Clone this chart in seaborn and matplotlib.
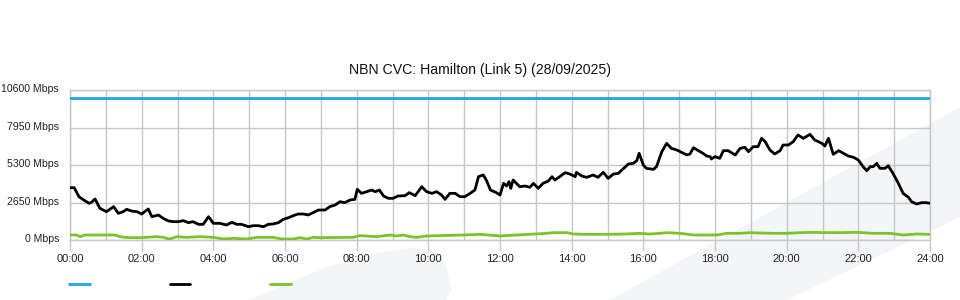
import matplotlib
matplotlib.use("Agg")
import matplotlib.pyplot as plt
import matplotlib.transforms as mtransforms
from matplotlib.patches import Polygon
from matplotlib.lines import Line2D
import seaborn as sns
import pandas as pd

# ---------------- data ----------------
title = "NBN CVC: Hamilton (Link 5) (28/09/2025)"
y_ticks = [0, 2650, 5300, 7950, 10600]
y_tick_labels = ["0 Mbps", "2650 Mbps", "5300 Mbps", "7950 Mbps", "10600 Mbps"]
x_ticks = list(range(0, 1441, 120))
x_tick_labels = ["00:00", "02:00", "04:00", "06:00", "08:00", "10:00", "12:00",
                 "14:00", "16:00", "18:00", "20:00", "22:00", "24:00"]

capacity_minutes = [0, 1440]
capacity_mbps = [10000, 10000]

traffic_minutes = [
    0, 7, 15, 23, 32, 36, 42, 50, 61, 73, 81, 89, 95, 103, 112, 120, 131, 137, 142, 148,
    156, 165, 173, 181, 190, 198, 206, 215, 223, 232, 240, 251, 262, 271, 279, 287, 299,
    307, 315, 324, 332, 340, 349, 357, 366, 374, 382, 391, 399, 408, 416,
    427, 435, 444, 452, 460, 469, 477, 481, 488, 497, 505, 511, 518, 525, 533, 541, 549,
    561, 568, 578, 589, 597, 606, 614, 622, 628, 636, 645, 653, 661, 670, 678, 684, 692,
    697, 704, 714, 720, 726, 731, 735, 738, 742, 753, 762, 770, 776, 784, 792, 801, 807,
    812, 820, 829, 837, 846, 848, 857, 865, 876, 884, 893, 901, 910, 918, 927, 935, 943,
    949, 953,
    960, 965, 977, 982, 991, 999, 1007, 1016, 1024, 1033, 1038, 1044, 1052, 1060, 1066,
    1072, 1074, 1080, 1088, 1094, 1102, 1114, 1122, 1130, 1136, 1144, 1152, 1158, 1164,
    1172, 1180, 1189, 1194, 1203, 1211, 1219, 1228, 1239, 1247, 1259, 1264, 1270, 1278,
    1287, 1295, 1303, 1312, 1320, 1328, 1334, 1340, 1345, 1351, 1356, 1365, 1370, 1378,
    1387, 1395, 1404, 1409, 1418, 1426, 1434, 1440,
]
traffic_mbps = [
    3696, 3696, 3061, 2827, 2592, 2670, 2897, 2238, 2002, 2356, 1884, 2002, 2167, 2049, 2002,
    1837, 2191, 1649, 1696, 1767, 1531, 1343, 1296, 1296, 1366, 1225, 1296, 1107, 1107, 1649,
    1178, 1178, 1060, 1248, 1107, 1107, 942, 1013, 1013, 942, 1107, 1131, 1225, 1460, 1578,
    1719, 1837, 1837, 1767, 1955, 2120,
    2120, 2356, 2473, 2709, 2638, 2827, 2874, 3580, 3297, 3415, 3533, 3415, 3533, 3109, 2944,
    2944, 3109, 3133, 3345, 3133, 3768, 3415, 3297, 3415, 3180, 2874, 3297, 3297, 3061, 3061,
    3297, 3533, 4475, 4593, 4240, 3533, 3345, 3180, 4004, 3815, 4122, 3651, 4240, 3768, 3815,
    3721, 4004, 3651, 4004, 4169, 4475, 4240, 4475, 4757, 4663, 4475, 4781, 4522, 4428, 4593,
    4428, 4781, 4357, 4663, 4710, 5064, 5370, 5417, 5606, 6124,
    5300, 5064, 4993, 5181, 6242, 6831, 6477, 6360, 6195, 6007, 6077, 6525, 6313, 6124, 5936,
    5889, 5724, 5889, 5771, 6313, 6313, 6007, 6477, 6548, 6242, 6595, 6595, 7184, 6949, 6360,
    6077, 6313, 6713, 6713, 6949, 7420, 7184, 7467, 7067, 6831, 6642, 7184, 6054, 6313, 6124,
    5936, 5842, 5653, 5181, 4898, 5181, 5181, 5417, 5064, 5064, 5252, 4710, 4004, 3297, 3015,
    2709, 2544, 2638, 2638, 2592,
]

upload_minutes = [
    0, 11, 17, 25, 50, 75, 84, 92, 100, 117, 128, 145, 156, 167, 179, 195, 218, 240, 257,
    273, 296, 313, 329, 340, 354, 374, 385, 396, 407, 419,
    474, 486, 514, 536, 547, 558, 569, 581, 597, 659, 687, 720, 748, 798, 809, 832, 843,
    865, 899, 932, 953,
    971, 988, 999, 1022, 1044, 1083, 1100, 1122, 1139, 1155, 1178, 1200, 1222, 1245, 1267,
    1289, 1317, 1345, 1373, 1395, 1418, 1440,
]
upload_mbps = [
    353, 353, 235, 353, 353, 353, 235, 188, 165, 165, 188, 235, 188, 71, 235, 188, 235, 188,
    71, 118, 71, 188, 188, 188, 71, 71, 165, 71, 188, 165,
    188, 306, 235, 353, 283, 353, 235, 188, 283, 353, 400, 283, 353, 471, 518, 518, 424,
    400, 400, 424, 471,
    424, 471, 518, 471, 353, 353, 471, 471, 518, 495, 471, 471, 518, 542, 518, 518, 542,
    471, 471, 353, 424, 400,
]

# ---------------- style ----------------
sns.set_style("white")
plt.rcParams["font.family"] = ["Liberation Sans", "DejaVu Sans"]

BLUE = "#1ea5e6"
BLACK = "#000000"
GREEN = "#7cc22a"
GRID = "#c6c6c6"
WM = "#f4f5f7"

W, H = 960, 300
fig = plt.figure(figsize=(W / 100, H / 100), dpi=100)
fig.patch.set_facecolor("white")

# faint background watermark shapes (figure pixel coordinates, y from top)
def px(pts):
    return [(x / W, 1 - y / H) for x, y in pts]

band = Polygon(px([(610, 300), (960, 107), (960, 217), (787, 300)]),
               closed=True, transform=fig.transFigure, facecolor=WM, edgecolor="none", zorder=-5)
blob = Polygon(px([(250, 300), (290, 282), (330, 266), (370, 254), (410, 248), (435, 251),
                   (446, 264), (452, 290), (446, 300)]),
               closed=True, transform=fig.transFigure, facecolor=WM, edgecolor="none", zorder=-5)
fig.patches.extend([band, blob])

ax = fig.add_axes([70 / W, 1 - 240 / H, 860 / W, 150 / H])
ax.set_zorder(2)
ax.set_facecolor("none")

cap_df = pd.DataFrame({"t": capacity_minutes, "v": capacity_mbps})
trf_df = pd.DataFrame({"t": traffic_minutes, "v": traffic_mbps})
upl_df = pd.DataFrame({"t": upload_minutes, "v": upload_mbps})

sns.lineplot(data=cap_df, x="t", y="v", ax=ax, color=BLUE, linewidth=2.0, zorder=3)
sns.lineplot(data=upl_df, x="t", y="v", ax=ax, color=GREEN, linewidth=2.0, zorder=3)
sns.lineplot(data=trf_df, x="t", y="v", ax=ax, color=BLACK, linewidth=2.0, zorder=4)

ax.set_xlim(0, 1440)
ax.set_ylim(0, 10600)
ax.set_xlabel("")
ax.set_ylabel("")

ax.set_xticks(x_ticks)
ax.set_xticklabels(x_tick_labels, fontsize=8, color="#222222")
ax.set_xticks(list(range(0, 1441, 60)), minor=True)
ax.set_yticks(y_ticks)
ax.set_yticklabels(y_tick_labels, fontsize=7.6, color="#222222")

ax.tick_params(axis="x", which="major", length=8, width=1, color=GRID, pad=2, bottom=True)
ax.tick_params(axis="x", which="minor", length=0)
ax.tick_params(axis="y", which="major", length=0, pad=8, left=True)

# y labels sit ~2px above their grid lines in the reference
shift = mtransforms.ScaledTranslation(0, 2 / 100, fig.dpi_scale_trans)
for lbl in ax.get_yticklabels():
    lbl.set_transform(lbl.get_transform() + shift)

ax.grid(True, which="both", axis="x", color=GRID, linewidth=1, zorder=1)
ax.grid(True, which="major", axis="y", color=GRID, linewidth=1, zorder=1)
ax.set_axisbelow(True)
for s in ax.spines.values():
    s.set_color(GRID)
    s.set_linewidth(1)

fig.text(0.5, 1 - 70 / H, title, ha="center", va="center", fontsize=10.2, color="#111111")

handles = [Line2D([], [], color=BLUE, linewidth=2),
           Line2D([], [], color=BLACK, linewidth=2),
           Line2D([], [], color=GREEN, linewidth=2)]
fig.legend(handles, ["", "", ""], loc="center left", bbox_to_anchor=(69 / W, 1 - 285 / H),
           ncol=3, frameon=False, fontsize=8, handlelength=1.85, handletextpad=0,
           columnspacing=7.2, borderpad=0, borderaxespad=0)

fig.savefig("out.png", dpi=100, facecolor="white")
